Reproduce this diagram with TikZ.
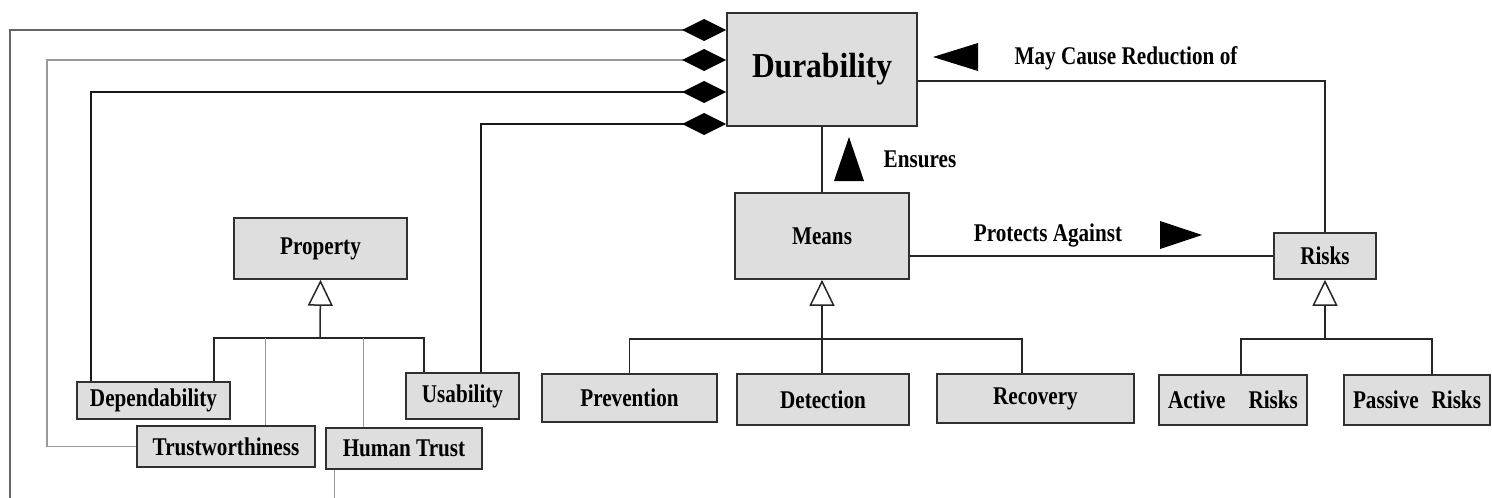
\documentclass[tikz,border=0pt]{standalone}
\usepackage{fontspec}
\setmainfont{Liberation Serif}[FakeStretch=0.83]
\newfontfamily\durfont{Liberation Serif}[FakeStretch=0.9]
\usetikzlibrary{arrows.meta,calc}
\definecolor{boxfill}{HTML}{DEDEDE}
\definecolor{boxline}{HTML}{303030}
\tikzset{
  cls/.style={draw=boxline, fill=boxfill, line width=1.6pt, inner sep=0pt,
    font=\fontsize{25.5}{28}\selectfont\bfseries},
  lbl/.style={font=\fontsize{25.5}{28}\selectfont\bfseries, inner sep=0pt},
  conn/.style={draw=black!85, line width=1.5pt},
  thinconn/.style={draw=black!40, line width=1pt},
  agg/.style={-{Diamond[length=44pt,width=22pt,color=black,fill=black]}},
  gen/.style={{Triangle[open,length=26pt,width=25pt,fill=white]}-, line width=1.5pt},
  marker/.style={fill=black, draw=none}
}
\begin{document}
\begin{tikzpicture}[x=1pt,y=-1pt]
\useasboundingbox (0,0) rectangle (1492,498);
% classes
\node[cls, minimum width=190pt, minimum height=113pt, font=\durfont\fontsize{35}{38}\selectfont\bfseries] (dur) at (822,69.5) {Durability};
\node[cls, minimum width=173pt, minimum height=61pt] (prop) at (320.5,248.5) {Property};
\node[cls, minimum width=153pt, minimum height=37pt] (dep) at (153.5,400.5) {Dependability};
\node[cls, minimum width=113pt, minimum height=46pt] (usa) at (462.5,396) {Usability};
\node[cls, minimum width=178pt, minimum height=41pt] (trust) at (226,446.5) {Trustworthiness};
\node[cls, minimum width=156pt, minimum height=41pt] (human) at (404,448.5) {Human Trust};
\node[cls, minimum width=174pt, minimum height=86pt] (means) at (822,236) {Means};
\node[cls, minimum width=102pt, minimum height=46pt] (risks) at (1325,256) {Risks};
\node[cls, minimum width=175pt, minimum height=48pt] (prev) at (629.5,398) {Prevention};
\node[cls, minimum width=172pt, minimum height=51pt] (det) at (823,399.5) {Detection};
\node[cls, minimum width=197pt, minimum height=49pt] (rec) at (1035.5,398.5) {Recovery};
\node[cls, minimum width=148pt, minimum height=50pt] (act) at (1233,400) {Active\hspace{0.9em}Risks};
\node[cls, minimum width=146pt, minimum height=50pt] (pas) at (1417,400) {Passive\hspace{0.5em}Risks};
% helper coordinates
\coordinate (c1) at (10,30);
\coordinate (e1) at (10,500);
\coordinate (c2) at (47,60);
\coordinate (c3) at (91,92);
\coordinate (c4) at (481,124);
\coordinate (c5) at (1325,81);
\coordinate (pb) at (320,338);
\coordinate (xa) at (214,0);
\coordinate (xb) at (424,0);
\coordinate (xt) at (265,338);
\coordinate (xh) at (363,338);
\coordinate (xhb) at (334,0);
\coordinate (e2) at (334,500);
\coordinate (mb) at (822,339);
\coordinate (xr) at (1022,0);
\coordinate (rb) at (1325,339);
\coordinate (xra) at (1241,0);
\coordinate (xrp) at (1432,0);
% aggregation lines
\draw[agg, draw=black!60, line width=1.2pt] (e1) -- (c1) -- (dur.west |- c1);
\draw[agg, draw=black!40, line width=1.2pt] (trust.west) -| (c2) -- (dur.west |- c2);
\draw[agg, draw=black!90, line width=1.5pt] (dep.north -| c3) -- (c3) -- (dur.west |- c3);
\draw[agg, draw=black!90, line width=1.5pt] (usa.north -| c4) -- (c4) -- (dur.west |- c4);
% generalisation: property
\draw[conn, gen] (prop.south) -- (pb);
\draw[conn] (dep.north -| xa) -- (xa |- pb) -- (xb |- pb) -- (usa.north -| xb);
\draw[thinconn] (xt) -- (trust.north -| xt);
\draw[thinconn] (xh) -- (human.north -| xh);
\draw[thinconn] (human.south -| xhb) -- (e2);
% means
\draw[conn] (dur.south) -- (means.north);
\draw[conn] (dur.east |- c5) -- (c5) -- (risks.north);
\draw[conn] (means.east |- risks.west) -- (risks.west);
\draw[conn, gen] (means.south) -- (det.north -| mb);
\draw[conn] (prev.north) -- (prev.north |- mb) -- (xr |- mb) -- (rec.north -| xr);
\draw[conn, gen] (risks.south) -- (rb);
\draw[conn] (act.north -| xra) -- (xra |- rb) -- (xrp |- rb) -- (pas.north -| xrp);
% direction markers and labels
\fill[marker] (933,57) -- (978,43) -- (978,71) -- cycle;
\node[lbl] (lmay) at (1126,58) {May Cause Reduction of};
\fill[marker] (849,137) -- (864,181) -- (834,181) -- cycle;
\node[lbl] (lens) at (920,159) {Ensures};
\fill[marker] (1202,235) -- (1160,221) -- (1160,249) -- cycle;
\node[lbl] (lpro) at (1048,235) {Protects Against};
\end{tikzpicture}
\end{document}
